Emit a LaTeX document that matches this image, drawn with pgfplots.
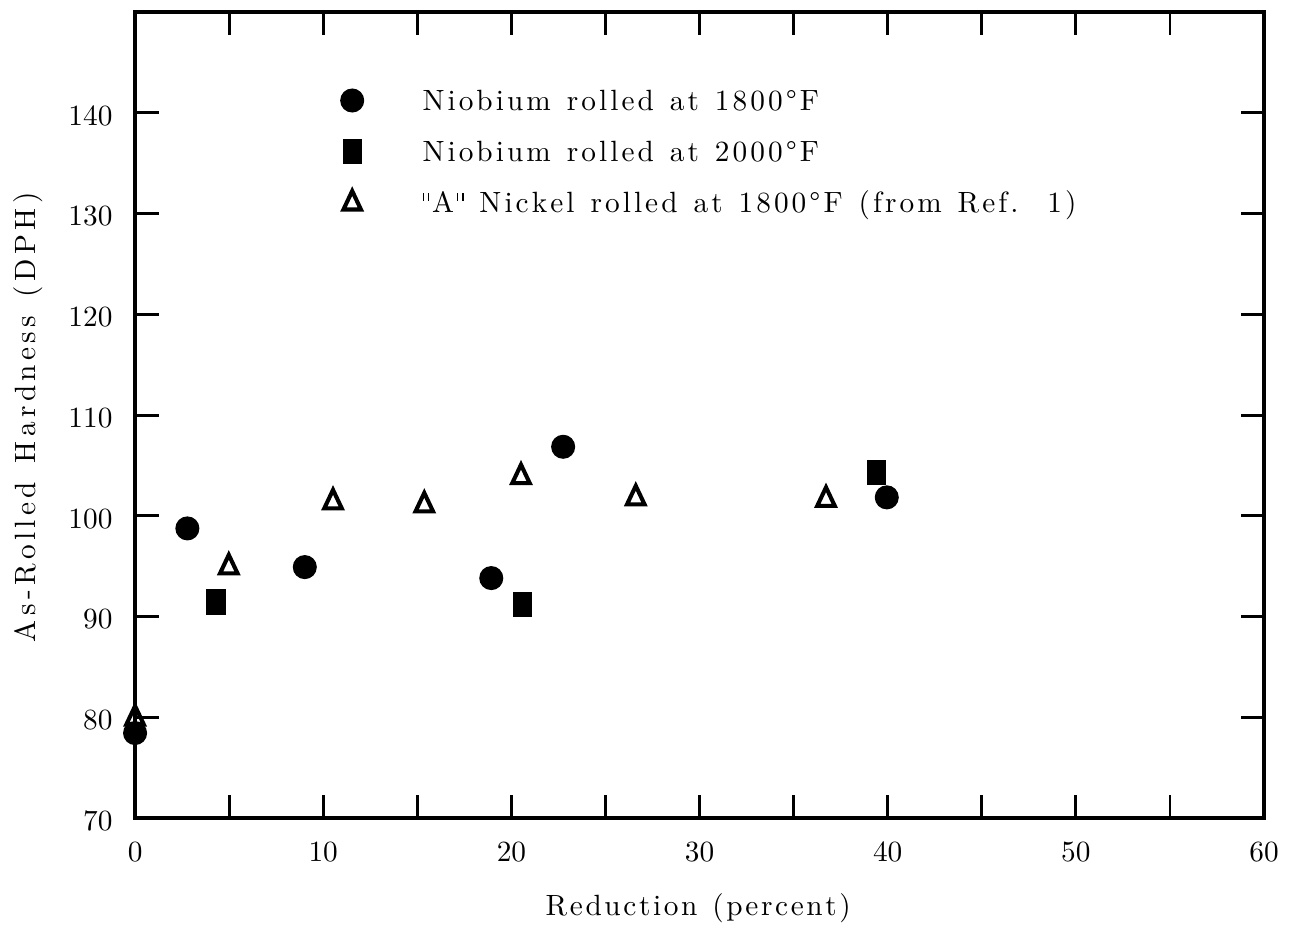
\documentclass[border=0pt]{standalone}
\usepackage{pgfplots}
\pgfplotsset{compat=1.18}
\makeatletter
\newcommand\lspace[2]{\def\ls@k{#1}\ls@loop#2\@nil}
\def\ls@loop#1{\ifx#1\@nil\else #1\kern\ls@k\expandafter\ls@loop\fi}
\makeatother
\newcommand\sq{\raisebox{4.1pt}{\rule{0.45pt}{2.6pt}\hspace{1.3pt}\rule{0.45pt}{2.6pt}}}
\begin{document}
\begin{tikzpicture}
\begin{axis}[name=ax, scale only axis, width=385.3pt, height=275.1pt,
  xmin=0, xmax=60, ymin=70, ymax=150, clip=false,
  xtick={0,10,...,60}, minor xtick={5,15,...,55}, ytick={70,80,...,140},
  major tick length=8pt, minor tick length=8pt,
  tick style={black, line width=1pt},
  axis line style={line width=1.6pt},
  xticklabel style={yshift=-4.9pt},
  yticklabel style={xshift=-4.2pt, yshift=-1pt},
  xlabel={\lspace{0.9pt}{Reduction~(percent)}},
  ylabel={\lspace{1.5pt}{As-Rolled~Hardness~(DPH)}},
  xlabel style={at={(axis description cs:0.5,-0.1203)}, anchor=base},
  ylabel style={at={(axis description cs:-0.0885,0.5)}, anchor=base},
  legend style={at={(rel axis cs:0,1)}, anchor=north west, xshift=69.6pt, yshift=-26.3pt,
    draw=none, fill=none, inner sep=0pt, outer sep=0pt, row sep=9.4pt,
    cells={anchor=west}, nodes={inner sep=0pt, text height=7pt, text depth=0.5pt}},
  legend image code/.code={\path[draw=none,fill=none] (-4.5pt,0pt) (24pt,0pt); \draw[#1] plot coordinates {(0pt,0pt)};},
]
\addplot[only marks, mark=*, mark size=3.9pt, black] coordinates {
  (0,78.44) (2.78,98.75) (9.02,94.91) (18.93,93.82) (22.75,106.85) (39.95,101.83)};
\addlegendentry{\lspace{1.05pt}{Niobium~rolled~at~1800\textdegree F}}
\addplot[only marks, mark=square*, mark size=4.1pt, mark options={xscale=0.745}, black] coordinates {
  (4.30,91.44) (20.58,91.21) (39.42,104.31)};
\addlegendentry{\lspace{1.05pt}{Niobium~rolled~at~2000\textdegree F}}
\addplot[only marks, mark=triangle, mark size=4.2pt, mark options={xscale=0.82, line width=1.4pt, fill=white}, black] coordinates {
  (0,79.9) (4.98,94.9) (10.52,101.35) (15.37,101.05) (20.51,103.85) (26.61,101.75) (36.72,101.6)};
\addlegendentry{\lspace{1.05pt}{\sq A\sq~Nickel~rolled~at~1800\textdegree F~(from~Ref.~~1)}}
\end{axis}
\pgfresetboundingbox
\path[use as bounding box] ([xshift=-46.1pt,yshift=-36.5pt]ax.south west) rectangle ([xshift=10.9pt,yshift=4.1pt]ax.north east);
\end{tikzpicture}
\end{document}
